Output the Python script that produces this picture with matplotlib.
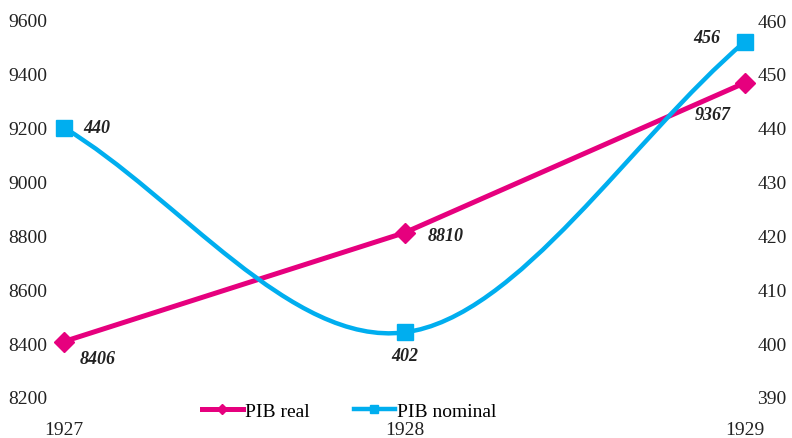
#!/usr/bin/env python3

""" PIB real vs PIB nominal, 1927-1929, on twin axes """

import numpy as np
import matplotlib.pyplot as plt
from matplotlib.path import Path
from matplotlib.patches import PathPatch

years = [1927, 1928, 1929]
pibReal = [8406, 8810, 9367]
pibNominal = [440, 402, 456]

PINK = '#E6007E'
BLUE = '#00AEEF'


def smoothPath(x, y):
    """ Catmull-Rom style cubic Bezier path through the points """
    x = np.asarray(x, float)
    y = np.asarray(y, float)
    n = len(x)
    tx = np.empty(n)
    ty = np.empty(n)
    tx[0], ty[0] = x[1] - x[0], y[1] - y[0]
    tx[-1], ty[-1] = x[-1] - x[-2], y[-1] - y[-2]
    tx[1:-1] = (x[2:] - x[:-2]) / 2
    ty[1:-1] = (y[2:] - y[:-2]) / 2
    verts = [(x[0], y[0])]
    codes = [Path.MOVETO]
    for i in range(n - 1):
        verts += [(x[i] + tx[i] / 3, y[i] + ty[i] / 3),
                  (x[i + 1] - tx[i + 1] / 3, y[i + 1] - ty[i + 1] / 3),
                  (x[i + 1], y[i + 1])]
        codes += [Path.CURVE4] * 3
    return Path(verts, codes)


def plotPib(out='out.png'):
    plt.rcParams.update({'font.family': 'Liberation Serif', 'font.size': 14})
    fig = plt.figure(figsize=(7.92, 4.39), dpi=100)
    ax = fig.add_axes([64 / 792, 1 - 398 / 439, 681 / 792, 377 / 439])
    ax2 = ax.twinx()

    ax.set_xlim(1927, 1929)
    ax.set_ylim(8200, 9600)
    ax2.set_ylim(390, 460)
    ax.set_yticks(np.arange(8200, 9601, 200))
    ax2.set_yticks(np.arange(390, 461, 10))
    ax.set_xticks(years)
    ax.set_xticklabels([str(y) for y in years])

    for a in (ax, ax2):
        for s in a.spines.values():
            s.set_visible(False)
        a.tick_params(length=0, colors='#222222')
    ax.tick_params(axis='y', pad=12)
    ax2.tick_params(axis='y', pad=9)
    ax.tick_params(axis='x', pad=17)

    # real GDP: straight segments with diamonds
    lineReal, = ax.plot(years, pibReal, color=PINK, lw=3.6, marker='D',
                        ms=10, clip_on=False, zorder=3, label='PIB real')

    # nominal GDP: smoothed curve with squares
    ax2.add_patch(PathPatch(smoothPath(years, pibNominal), fill=False,
                            edgecolor=BLUE, lw=3.2, zorder=3, clip_on=False))
    ax2.plot(years, pibNominal, color=BLUE, ls='none', marker='s', ms=11,
             clip_on=False, zorder=4)
    handleNom, = ax2.plot([], [], color=BLUE, lw=3.2, marker='s', ms=11,
                          label='PIB nominal')

    lab = dict(fontweight='bold', fontstyle='italic', fontsize=13,
               color='#222222', textcoords='offset points')
    realOffsets = [(24, -12, 'center'), (17, -2, 'left'), (-23, -23, 'center')]
    for x, v, (dx, dy, ha) in zip(years, pibReal, realOffsets):
        ax.annotate(f'{v}', (x, v), xytext=(dx, dy), ha=ha, va='center', **lab)
    nomOffsets = [(14, 0, 'left'), (0, -17, 'center'), (-18, 3, 'right')]
    for x, v, (dx, dy, ha) in zip(years, pibNominal, nomOffsets):
        ax2.annotate(f'{v}', (x, v), xytext=(dx, dy), ha=ha, va='center', **lab)

    fig.legend(handles=[lineReal, handleNom], loc='center',
               bbox_to_anchor=(349 / 792, 1 - 412 / 439), ncol=2,
               frameon=False, handlelength=2.1, handletextpad=0.1,
               columnspacing=2.3, markerscale=0.55, fontsize=14)

    fig.savefig(out, dpi=100)


if __name__ == '__main__':
    plotPib()
